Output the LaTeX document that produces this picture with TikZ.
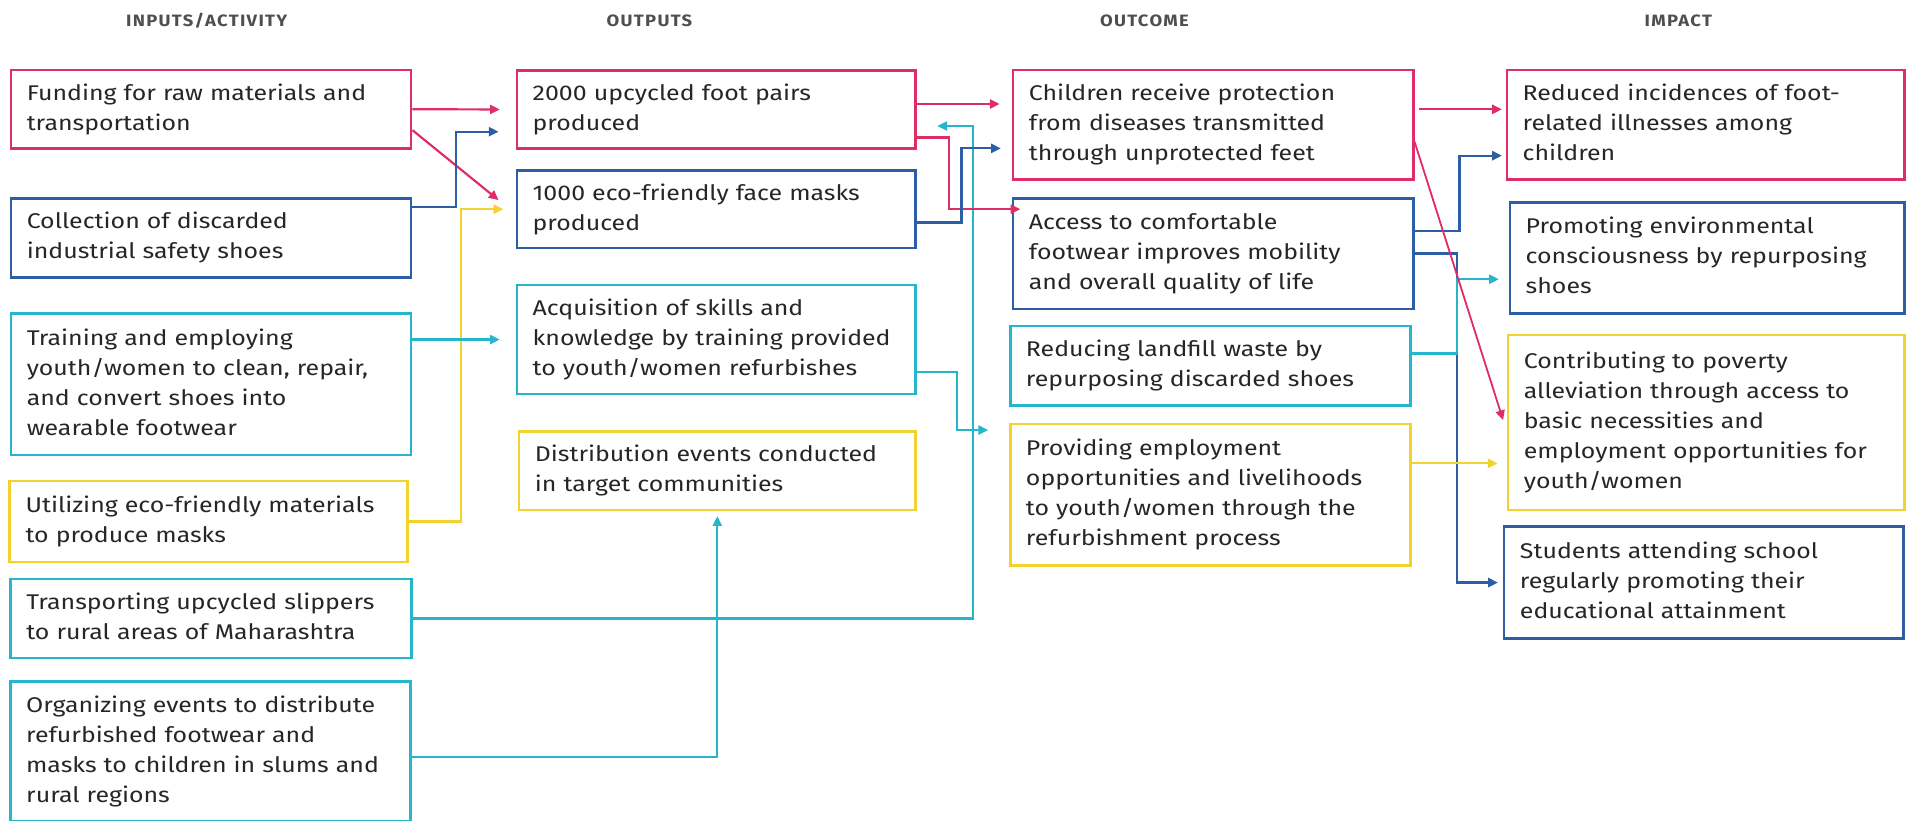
\documentclass[tikz,border=0pt]{standalone}
\usepackage{fontspec}
\setmainfont{Fira Sans}[FakeStretch=1.17]
\newfontfamily\headfont{Fira Sans}[FakeStretch=1.12, LetterSpace=8]
\usetikzlibrary{arrows.meta}

\definecolor{cpink}{HTML}{DF2E66}
\definecolor{cblue}{HTML}{2C5EA6}
\definecolor{ccyan}{HTML}{25B6CB}
\definecolor{cyell}{HTML}{F4D22E}
\definecolor{ctext}{HTML}{262626}
\definecolor{chead}{HTML}{4F4F4F}

% a block of lines that never rewraps
\newcommand\boxlines[1]{\begin{tabular}{@{}l@{}}#1\end{tabular}}

\begin{document}
\begin{tikzpicture}[x=1pt,y=-1pt,
  box/.style={rectangle, line width=2.2pt, inner xsep=13pt, inner ysep=0pt,
    align=left, text=ctext, font=\fontsize{17.5}{24.7}\selectfont},
  % colour, total width, total height
  bx/.code n args={3}{%
    \pgfmathsetlengthmacro\boxtw{#2-26pt}%
    \tikzset{box, draw=#1, minimum width=#2, minimum height=#3,
      text width/.expanded=\boxtw}},
  head/.style={font=\headfont\fontsize{13.5}{16}\selectfont\bfseries, text=chead},
  link/.style={line width=1.8pt, -{Triangle[length=8pt,width=7.5pt]}},
  lpink/.style={link, draw=cpink},
  lblue/.style={link, draw=cblue},
  lcyan/.style={link, draw=ccyan},
  lyell/.style={link, draw=cyell},
]
\useasboundingbox (0,0) rectangle (1568,675);

% column headings
\node[head] (h1) at (170,17) {INPUTS/ACTIVITY};
\node[head] (h2) at (534,17) {OUTPUTS};
\node[head] (h3) at (941,17) {OUTCOME};
\node[head] (h4) at (1380,17) {IMPACT};

% inputs / activities
\node[bx={cpink}{329pt}{64.4pt}] (fund) at (173.5,89.8)
  {\boxlines{Funding for raw materials and\\transportation}};
\node[bx={cblue}{329pt}{65pt}] (coll) at (173.5,195.5)
  {\boxlines{Collection of discarded\\industrial safety shoes}};
\node[bx={ccyan}{329pt}{116.4pt}] (train) at (173.5,315.8)
  {\boxlines{Training and employing\\youth/women to clean, repair,\\and convert shoes into\\wearable footwear}};
\node[bx={cyell}{327pt}{66.5pt}] (util) at (171.5,428.75)
  {\boxlines{Utilizing eco-friendly materials\\to produce masks}};
\node[bx={ccyan}{330pt}{65pt}] (trans) at (173.6,508.5)
  {\boxlines{Transporting upcycled slippers\\to rural areas of Maharashtra}};
\node[bx={ccyan}{329pt}{114.5pt}] (org) at (173,617.75)
  {\boxlines{Organizing events to distribute\\refurbished footwear and\\masks to children in slums and\\rural regions}};

% outputs
\node[bx={cpink}{328pt}{64pt}] (o2000) at (589,90)
  {\boxlines{2000 upcycled foot pairs\\produced}};
\node[bx={cblue}{328pt}{64pt}] (o1000) at (589,172)
  {\boxlines{1000 eco-friendly face masks\\produced}};
\node[bx={ccyan}{328pt}{89.6pt}] (acq) at (589,279.2)
  {\boxlines{Acquisition of skills and\\knowledge by training provided\\to youth/women refurbishes}};
\node[bx={cyell}{326pt}{64.3pt}] (dist) at (589.8,387.2)
  {\boxlines{Distribution events conducted\\in target communities}};

% outcomes
\node[bx={cpink}{329pt}{90pt}] (child) at (997.5,102.5)
  {\boxlines{Children receive protection\\from diseases transmitted\\through unprotected feet}};
\node[bx={cblue}{329pt}{91pt}] (acc) at (997.5,208.5)
  {\boxlines{Access to comfortable\\footwear improves mobility\\and overall quality of life}};
\node[bx={ccyan}{329.4pt}{65.5pt}] (red) at (995.3,300.8)
  {\boxlines{Reducing landfill waste by\\repurposing discarded shoes}};
\node[bx={cyell}{329.4pt}{116.4pt}] (prov) at (995.3,406.8)
  {\boxlines{Providing employment\\opportunities and livelihoods\\to youth/women through the\\refurbishment process}};

% impact
\node[bx={cpink}{327pt}{90pt}] (imp1) at (1402.5,102.5)
  {\boxlines{Reduced incidences of foot-\\related illnesses among\\children}};
\node[bx={cblue}{324.5pt}{91pt}] (imp2) at (1403.75,212)
  {\boxlines{Promoting environmental\\consciousness by repurposing\\shoes}};
\node[bx={cyell}{326pt}{143.8pt}] (imp3) at (1403,347.4)
  {\boxlines{Contributing to poverty\\alleviation through access to\\basic necessities and\\employment opportunities for\\youth/women}};
\node[bx={cblue}{328.3pt}{91.8pt}] (imp4) at (1400.9,479)
  {\boxlines{Students attending school\\regularly promoting their\\educational attainment}};

% inputs -> outputs
\draw[lpink] (fund.east) -- ([xshift=-13pt]o2000.west);
\draw[lpink] ([yshift=-17.2pt]fund.east) -- ([xshift=-14pt,yshift=7.5pt]o1000.west);
\draw[lblue] ([yshift=25.5pt]coll.east) -- ++(36,0) |- ([xshift=-14pt,yshift=-18.3pt]o2000.west);
\draw[lyell] (util.east) -- ++(43,0) |- ([xshift=-10pt]o1000.west);
\draw[lcyan] (train.east |- acq.west) -- ([xshift=-13pt]acq.west);
\draw[lcyan] (trans.east) -- ++(460,0) |- ([xshift=16.6pt,yshift=-13.6pt]o2000.east);
\draw[lcyan] ([yshift=-4.75pt]org.east) -| ([yshift=-4pt]dist.south);

% outputs -> outcomes
\draw[lcyan] ([yshift=-26.8pt]acq.east) -- ++(33,0) |- ([xshift=-17pt,yshift=53.2pt]prov.west);
\draw[lpink] ([yshift=4.5pt]o2000.east) -- ([xshift=-10pt,yshift=17pt]child.west);
\draw[lpink] ([yshift=-23pt]o2000.east) -- ++(26.5,0) |- ([xshift=7pt,yshift=36.5pt]acc.west);
\draw[lblue] ([yshift=-11pt]o1000.east) -- ++(36.5,0) |- ([xshift=-9pt,yshift=-19.5pt]child.west);

% outcomes -> impact
\draw[lpink] ([xshift=4pt,yshift=12.6pt]child.east) -- ([xshift=-3pt,yshift=12.6pt]imp1.west);
\draw[lblue] ([yshift=18.8pt]acc.east) -- ++(37,0) |- ([xshift=-3pt,yshift=-25.5pt]imp1.west);
\draw[lblue] (acc.east) -- ++(35,0) |- ([xshift=-4pt]imp4.west);
\draw[lcyan] ([yshift=10.2pt]red.east) -- ++(37,0) |- ([xshift=-8pt,yshift=-17.6pt]imp2.west);
\draw[lyell] ([yshift=25.8pt]prov.east) -- ([xshift=-7.5pt,yshift=-33.6pt]imp3.west);
\draw[lpink, line width=1.5pt] ([yshift=-14pt]child.east) -- ([xshift=-3pt,yshift=2pt]imp3.west);
\end{tikzpicture}
\end{document}
